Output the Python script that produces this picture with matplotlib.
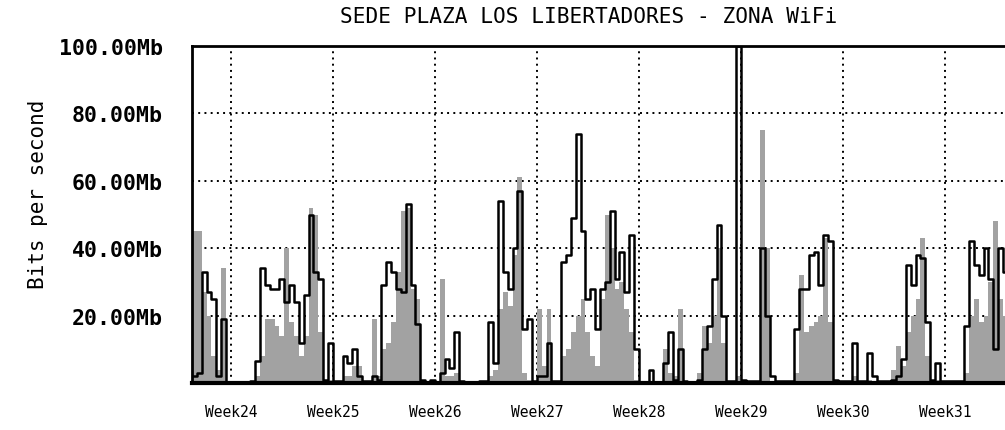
import numpy as np
import matplotlib
matplotlib.use("Agg")
import matplotlib.pyplot as plt

# MRTG style chart, 3 samples per day (8 h each), values in Mb/s
SAMPLES_PER_DAY = 3

# gray filled series (incoming)
in_traffic = [
    45, 45, 27, 20, 8, 4, 34, 0, 0, 0,
    0, 0, 0, 2, 8, 19, 19, 17, 14, 40,
    18, 14, 8, 14, 52, 50, 15, 1, 1, 0,
    0, 2, 2, 5, 5, 0, 0, 19, 2, 10,
    12, 18, 33, 51, 52, 28, 25, 1, 0, 0,
    0, 31, 2, 2, 3, 0, 0, 0, 0, 0,
    0, 2, 4, 22, 27, 23, 38, 61, 3, 1,
    0, 22, 5, 22, 0, 0, 8, 10, 15, 20,
    25, 15, 8, 5, 25, 50, 40, 28, 30, 22,
    15, 1, 0, 0, 0, 0, 0, 10, 3, 2,
    22, 0, 0, 0, 3, 17, 12, 20, 40, 12,
    0, 0, 2, 0, 0, 0, 0, 75, 40, 0,
    0, 0, 0, 0, 3, 32, 15, 17, 18, 20,
    43, 18, 0, 0, 0, 0, 2, 0, 0, 1,
    0, 0, 0, 0, 4, 11, 5, 15, 20, 25,
    43, 8, 0, 1, 0, 0, 0, 0, 0, 3,
    20, 25, 18, 20, 30, 48, 25, 20,
]

# black line series (outgoing)
out_traffic = [
    2, 3, 33, 27, 25, 2, 19, 0, 0, 0,
    0, 0, 0.5, 6.5, 34, 29, 28, 28, 31, 24,
    29, 24, 12, 26, 50, 33, 31, 1, 12, 0.5,
    0.5, 8, 6, 10, 2, 0.5, 0.5, 2, 1, 29,
    36, 33, 28, 27, 53, 29, 17.5, 1, 0.3, 1,
    0.3, 3, 7, 4.5, 15, 0.5, 0, 0, 0, 0.5,
    0.5, 18, 6, 54, 33, 28, 40, 57, 16, 19,
    0.5, 2, 2, 12, 0.5, 0.5, 36, 38, 49, 74,
    45, 25, 28, 16, 28, 30, 51, 31, 39, 27,
    44, 10, 0.3, 0.3, 4, 0.3, 0.3, 6, 15, 1,
    10, 0.5, 0.3, 0.3, 1, 10, 17, 31, 47, 20,
    0.5, 0.5, 100, 1, 0.5, 0.5, 0.5, 40, 20, 2,
    0.5, 0.5, 0.5, 0.5, 16, 28, 28, 38, 39, 29,
    44, 42, 1, 0.5, 0.5, 0.5, 12, 0.5, 0.5, 9,
    2, 0.5, 0.5, 0.5, 1, 2, 7, 35, 29, 38,
    37, 18, 1, 6, 0.5, 0.5, 0.5, 0.5, 0.5, 17,
    42, 35, 32, 40, 31, 10, 40, 33,
]

week_labels = ["Week24", "Week25", "Week26", "Week27",
               "Week28", "Week29", "Week30", "Week31"]
first_week_day = 2.68  # day where Week24 starts on the chart

y_ticks = [20, 40, 60, 80, 100]
y_tick_labels = ["20.00Mb", "40.00Mb", "60.00Mb", "80.00Mb", "100.00Mb"]

mono = "DejaVu Sans Mono"

fig = plt.figure(figsize=(10.05, 4.31), dpi=100)
ax = fig.add_axes([0.191, 0.109, 0.809, 0.782])

n = len(in_traffic)
x = np.arange(n + 1) / SAMPLES_PER_DAY
g = np.append(in_traffic, in_traffic[-1])
b = np.append(out_traffic, out_traffic[-1])

ax.fill_between(x, g, step="post", color="#a2a2a2", linewidth=0, zorder=2)
ax.step(x, b, where="post", color="black", linewidth=1.8, zorder=3)

ax.set_xlim(0, 55.8)
ax.set_ylim(0, 100)

week_pos = [first_week_day + 7 * i for i in range(len(week_labels))]
ax.set_xticks(week_pos)
ax.set_xticklabels(week_labels, fontsize=10.5, family=mono)
ax.set_yticks(y_ticks)
ax.set_yticklabels(y_tick_labels, fontsize=15.5, family=mono, fontweight="bold")
ax.tick_params(axis="x", length=0, pad=15)
ax.tick_params(axis="y", length=0, pad=21)

# dotted grid
ax.grid(True, color="black", linestyle=(0, (1, 2.2)), linewidth=1.4, zorder=1)
ax.set_axisbelow(True)

ax.spines["right"].set_visible(False)
ax.spines["top"].set_linewidth(2)
ax.spines["left"].set_linewidth(2)
ax.spines["bottom"].set_linewidth(3)

fig.text(0.586, 1 - 17 / 431, "SEDE PLAZA LOS LIBERTADORES - ZONA WiFi",
         ha="center", va="center", fontsize=15.2, family=mono)
fig.text(0.038, 0.548, "Bits per second", rotation=90,
         ha="center", va="center", fontsize=15, family=mono)

fig.savefig("out.png", dpi=100)
